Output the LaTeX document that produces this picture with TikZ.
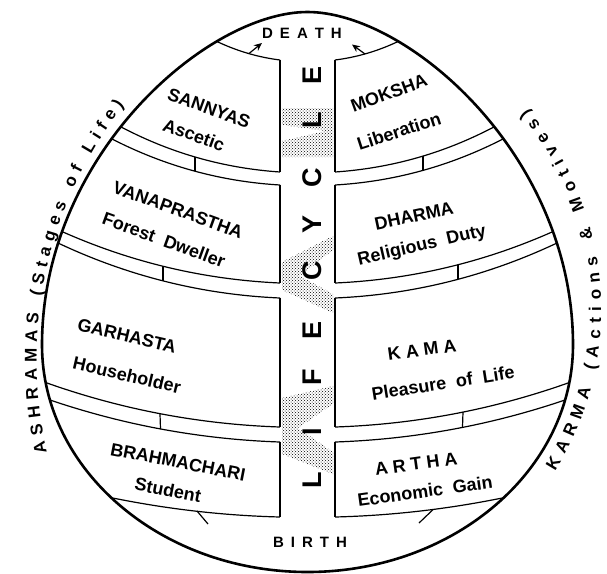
\documentclass[tikz,border=0pt]{standalone}
\usepackage{fontspec}
\setmainfont{Liberation Sans}
\usetikzlibrary{arrows.meta,calc,decorations.text,patterns}
\newcommand{\lgap}{\hspace{7pt}}
\newcommand{\kgap}{\hspace{5pt}}
\newcommand{\wgap}{\hspace{10pt}}
\def\eggpath{(307.5,12) .. controls (207.5,12) and (42,155) .. (42,345)
  .. controls (42,470) and (161,572) .. (307.5,572)
  .. controls (454,572) and (573,470) .. (573,345)
  .. controls (573,155) and (407.5,12) .. cycle}

\begin{document}
\begin{tikzpicture}[x=1pt,y=-1pt,>={Stealth[length=8pt,width=7pt]},
  rim/.style={line width=2.6pt},
  band/.style={line width=1.2pt},
  pillar/.style={line width=2pt},
  stage/.style={font=\bfseries\fontsize{18}{20}\selectfont,inner sep=0pt},
  spine/.style={font=\bfseries\fontsize{27}{27}\selectfont,rotate=90,inner sep=0pt},
  stipple/.style={pattern=crosshatch dots,pattern color=black},
  arctext/.style={decorate,decoration={text along path,text align={fit to path},
    text={|\bfseries\fontsize{17}{17}\selectfont|#1}}}]
  \useasboundingbox (0,0) rectangle (607,573);

  % stippled zigzag in the column
  \fill[stipple] (282,108) -- (333,108) -- (333,157) -- (282,157) -- (282,141)
    -- (326,131) -- (282,125) -- cycle;
  \fill[stipple] (333,236) -- (282,262) -- (282,290) -- (333,313) -- (333,294)
    -- (300,276) -- (333,250) -- cycle;
  \fill[stipple] (333,386) -- (282,398) -- (282,454) -- (333,474) -- (333,452)
    -- (298,428) -- (333,404) -- cycle;

  % band edges, left half and mirrored right half
  \begin{scope}
    \clip \eggpath;
    \foreach \sx in {1,-1}{
      \begin{scope}[shift={(307.5-307.5*\sx,0)},xscale=\sx]
        \foreach \yc/\kx/\ky/\xe/\ye in {60/248/56/218/42,172/199/166.5/127/130,
            185/195/180/118/142,283/167/278/63/232,298/164/293/58/243,
            427/160/423/47/383,442/162/438/50/400,517/201/515/123/500}
          \draw[band] (280,\yc) .. controls ($(280,\yc)!2/3!(\kx,\ky)$)
            and ($(\xe,\ye)!2/3!(\kx,\ky)$) .. (\xe,\ye)
            -- ($(\xe,\ye)!-25pt!(\kx,\ky)$);
        \foreach \ya/\yb in {60/172,185/283,298/427,442/517}
          \draw[pillar] (280,\ya) -- (280,\yb);
      \end{scope}
    }
  \end{scope}

  % ticks across the gaps
  \draw[band] (195,157) -- (195,171);
  \draw[band] (163,266) -- (163,281);
  \draw[band] (160,414) -- (160.5,429);
  \draw[band] (423,156) -- (423,170.5);
  \draw[band] (458,265) -- (458,279);
  \draw[band] (463,412) -- (462.5,427);
  \draw[band] (197,511) -- (208,524);
  \draw[band] (433,509.6) -- (419,523);

  % arrows up to death
  \coordinate (lfoot) at (249,53.5);
  \coordinate (lhead) at (262,43);
  \coordinate (rfoot) at (365,54);
  \coordinate (rhead) at (352,44.5);
  \draw[band,->] (lfoot) -- (lhead);
  \draw[band,->] (rfoot) -- (rhead);

  \draw[rim] \eggpath;

  % life cycle letters
  \foreach \ch/\y in {L/480,I/432,F/377,E/330,C/271,Y/224,C/178,L/120,E/75}
    \node[spine] (spine\y) at (312,\y) {\ch};

  \node[font=\bfseries\fontsize{15}{15}\selectfont] (death) at (302,33)
    {D\lgap E\lgap A\lgap T\lgap H};
  \node[font=\bfseries\fontsize{15}{15}\selectfont] (birth) at (310,542)
    {B\lgap I\lgap R\lgap T\lgap H};

  % ashramas
  \node[stage,rotate=-20] (sannyas) at (209,108) {SANNYAS};
  \node[stage,rotate=-20] (ascetic) at (194,135) {Ascetic};
  \node[stage,rotate=-20] (vana) at (178,210) {VANAPRASTHA};
  \node[stage,rotate=-20] (forest) at (164,240) {Forest\wgap Dweller};
  \node[stage,rotate=-13] (garha) at (127,336) {GARHASTA};
  \node[stage,rotate=-13] (house) at (127,375) {Householder};
  \node[stage,rotate=-11] (brahma) at (178,462) {BRAHMACHARI};
  \node[stage,rotate=-11] (student) at (168,490) {Student};

  % karma
  \node[stage,rotate=20] (moksha) at (389,93) {MOKSHA};
  \node[stage,rotate=18] (liber) at (399,131) {Liberation};
  \node[stage,rotate=12] (dharma) at (414,216) {DHARMA};
  \node[stage,rotate=13] (duty) at (422,246) {Religious\wgap Duty};
  \node[stage,rotate=8] (kama) at (422,350) {K\kgap A\kgap M\kgap A};
  \node[stage,rotate=9] (pleasure) at (443,383) {Pleasure\wgap of\wgap Life};
  \node[stage,rotate=8] (artha) at (416,464) {A\kgap R\kgap T\kgap H\kgap A};
  \node[stage,rotate=8] (gain) at (425,491) {Economic\wgap Gain};

  % side captions
  \path[arctext={ASHRAMAS (Stages of Life)}]
    (47,452) .. controls (19.2,329.5) and (47.7,202.4) .. (124,105);
  \path[arctext={KARMA (Actions {\&} Motives)}]
    (555,471) .. controls (626,358) and (614,210) .. (527,109);
\end{tikzpicture}
\end{document}
